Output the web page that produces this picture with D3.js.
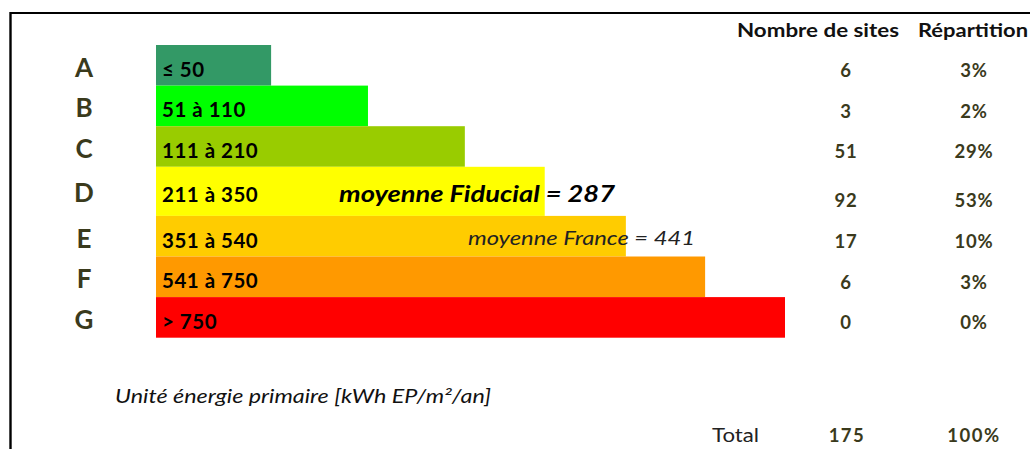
<!DOCTYPE html>
<html lang="fr">
<head>
<meta charset="utf-8">
<title>Etiquette énergie</title>
<script src="https://d3js.org/d3.v7.min.js" charset="utf-8"></script>
<style>
  body { margin: 0; background: #fff; }
  svg text { font-family: Lato, "Open Sans", sans-serif; }
</style>
</head>
<body>
<svg id="content" width="1030" height="449"></svg>
<script>
// données
const classes = ["A", "B", "C", "D", "E", "F", "G"];
const ranges = ["≤ 50", "51 à 110", "111 à 210", "211 à 350", "351 à 540", "541 à 750", "> 750"];
const barSize = [18.3, 33.7, 49.1, 61.8, 74.7, 87.3, 100];
const sites = [6, 3, 51, 92, 17, 6, 0];
const shares = ["3%", "2%", "29%", "53%", "10%", "3%", "0%"];
const colors = ["#339966", "#00ff00", "#99cc00", "#ffff00", "#ffcc00", "#ff9900", "#ff0000"];
const headers = ["Nombre de sites", "Répartition"];
const totalSites = 175, totalShare = "100%";
const moyFiducial = 287, moyFrance = 441;

const svg = d3.select("#content");
const ink = "#3a3a1c";

// étire un texte à la largeur voulue (police de l'original plus large)
function fit(sel, w) {
  return sel.attr("textLength", w).attr("lengthAdjust", "spacingAndGlyphs");
}

// cadre
svg.append("line").attr("x1", 10).attr("x2", 1030).attr("y1", 13).attr("y2", 13)
  .attr("stroke", "#000").attr("stroke-width", 2.2);
svg.append("line").attr("x1", 10.5).attr("x2", 10.5).attr("y1", 12).attr("y2", 449)
  .attr("stroke", "#000").attr("stroke-width", 2.4);

// lignes : la ligne D est plus haute
const top0 = 45, rowH = 40.6, tallExtra = 8.5;
let acc = top0;
const rows = classes.map((c, i) => {
  const h = rowH + (c === "D" ? tallExtra : 0);
  const r = { c, i, y0: acc, y1: acc + h };
  acc += h;
  return r;
});

const x = d3.scaleLinear().domain([0, 100]).range([156, 785]);

const g = svg.selectAll(".row").data(rows).enter().append("g").attr("class", "row");

g.append("rect")
  .attr("x", x(0))
  .attr("y", d => d.y0)
  .attr("width", d => x(barSize[d.i]) - x(0))
  .attr("height", d => d.y1 - d.y0)
  .attr("fill", d => colors[d.i]);

const labelY = d => d.y1 - (d.c === "D" ? 14 : 9);

g.append("text")
  .attr("x", 84).attr("y", labelY)
  .attr("text-anchor", "middle")
  .style("font-size", "26px").style("font-weight", 700).style("fill", ink)
  .text(d => d.c);

g.append("text")
  .attr("x", 162).attr("y", labelY)
  .style("font-size", "20.5px").style("font-weight", 700).style("fill", "#000")
  .style("letter-spacing", "0.5px")
  .text(d => ranges[d.i]);

g.append("text")
  .attr("x", 846).attr("y", d => d.y1 - 8.5)
  .attr("text-anchor", "middle")
  .style("font-size", "18.5px").style("font-weight", 700).style("fill", ink)
  .style("letter-spacing", "0.8px")
  .text(d => sites[d.i]);

g.append("text")
  .attr("x", 974).attr("y", d => d.y1 - 8.5)
  .attr("text-anchor", "middle")
  .style("font-size", "18.5px").style("font-weight", 700).style("fill", ink)
  .style("letter-spacing", "0.8px")
  .text(d => shares[d.i]);

// en-têtes
fit(svg.append("text").attr("x", 737).attr("y", 37)
  .style("font-size", "18.5px").style("font-weight", 700).style("fill", "#111")
  .text(headers[0]), 162);
fit(svg.append("text").attr("x", 918).attr("y", 37)
  .style("font-size", "18.5px").style("font-weight", 700).style("fill", "#111")
  .text(headers[1]), 110);

// moyennes
const dRow = rows[3], eRow = rows[4];
fit(svg.append("text").attr("x", 339).attr("y", labelY(dRow))
  .style("font-size", "22px").style("font-weight", 700).style("font-style", "italic")
  .style("fill", "#000")
  .text("moyenne Fiducial = " + moyFiducial), 276);
fit(svg.append("text").attr("x", 468).attr("y", eRow.y1 - 12)
  .style("font-size", "18.5px").style("font-style", "italic").style("fill", "#222")
  .text("moyenne France = " + moyFrance), 227);

// unité
fit(svg.append("text").attr("x", 115).attr("y", 403)
  .style("font-size", "18.5px").style("font-style", "italic").style("fill", "#111")
  .text("Unité énergie primaire [kWh EP/m²/an]"), 376);

// total
fit(svg.append("text").attr("x", 712).attr("y", 442)
  .style("font-size", "18.5px").style("fill", "#222")
  .text("Total"), 47);
svg.append("text").attr("x", 847).attr("y", 442).attr("text-anchor", "middle")
  .style("font-size", "18.5px").style("font-weight", 700).style("fill", ink)
  .style("letter-spacing", "1.5px")
  .text(totalSites);
svg.append("text").attr("x", 974).attr("y", 442).attr("text-anchor", "middle")
  .style("font-size", "18.5px").style("font-weight", 700).style("fill", ink)
  .style("letter-spacing", "1.5px")
  .text(totalShare);
</script>
</body>
</html>
